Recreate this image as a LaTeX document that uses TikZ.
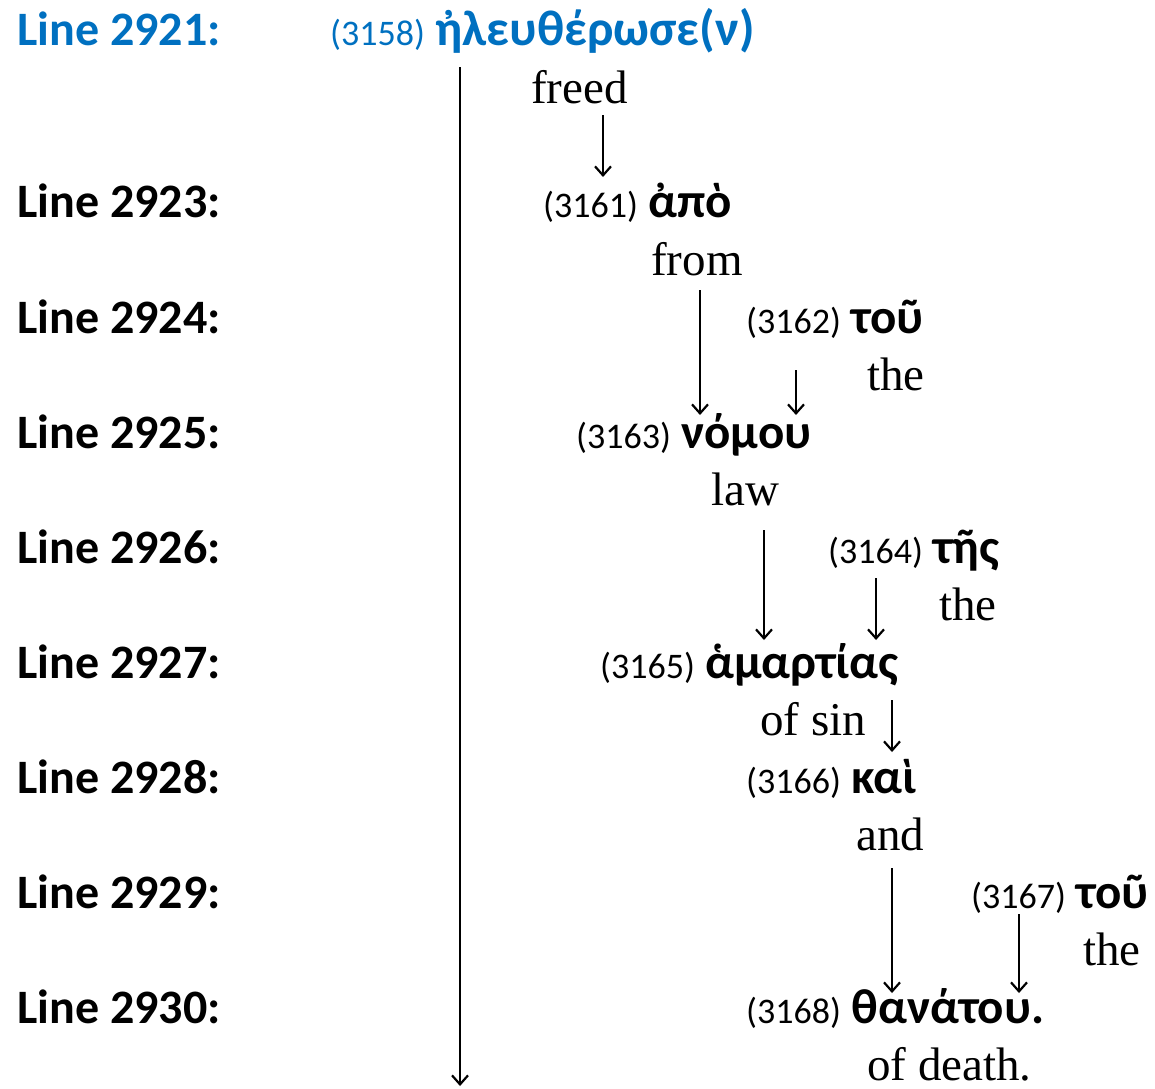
\documentclass[tikz,border=0pt]{standalone}
\usepackage{fontspec}
\setmainfont{Liberation Serif}
\newfontfamily\lblfont{Carlito}
\newfontfamily\grkfont{Carlito}
\usetikzlibrary{arrows.meta,calc}
\definecolor{ablue}{RGB}{0,112,192}
\newcommand\wnum[1]{{\lblfont\fontsize{36}{40}\selectfont(#1)}}
\newcommand\gword[1]{{\grkfont\bfseries\fontsize{49}{50}\selectfont #1}}
\begin{document}
\begin{tikzpicture}[x=1pt,y=-1pt,
 lbl/.style={anchor=base west,inner sep=0,font=\lblfont\bfseries\fontsize{48}{50}\selectfont},
 gw/.style={anchor=base west,inner sep=0,font=\lblfont\fontsize{46}{50}\selectfont},
 en/.style={anchor=base west,inner sep=0,font=\fontsize{47}{50}\selectfont},
 arr/.style={-{Straight Barb[length=9pt,width=16pt]},line width=2.2pt}]
\useasboundingbox (0,0) rectangle (1155,1088);
% line labels
\node[lbl,text=ablue] (l1) at (17,45) {Line 2921:};
\node[lbl] (l3) at (17,217) {Line 2923:};
\node[lbl] (l4) at (17,333) {Line 2924:};
\node[lbl] (l5) at (17,448) {Line 2925:};
\node[lbl] (l6) at (17,563) {Line 2926:};
\node[lbl] (l7) at (17,678) {Line 2927:};
\node[lbl] (l8) at (17,793) {Line 2928:};
\node[lbl] (l9) at (17,908) {Line 2929:};
\node[lbl] (l10) at (17,1023) {Line 2930:};
% words
\node[gw,text=ablue] (w3158) at (330,45) {\wnum{3158} {\grkfont\bfseries\fontsize{50}{54}\selectfont ἠλευθέρωσε(ν)}};
\node[en] (freed) at (531,103) {freed};
\node[gw] (w3161) at (543,217) {\wnum{3161} \gword{ἀπὸ}};
\node[en] (from) at (651,275) {from};
\node[gw] (w3162) at (746,333) {\wnum{3162} \gword{τοῦ}};
\node[en] (the1) at (867,390) {the};
\node[gw] (w3163) at (576,448) {\wnum{3163} \gword{νόμου}};
\node[en] (law) at (711,505) {law};
\node[gw] (w3164) at (828,563) {\wnum{3164} \gword{τῆς}};
\node[en] (the2) at (939,620) {the};
\node[gw] (w3165) at (600,678) {\wnum{3165} \gword{ἁμαρτίας}};
\node[en] (ofsin) at (760,735) {of sin};
\node[gw] (w3166) at (746,793) {\wnum{3166} \gword{καὶ}};
\node[en] (and) at (856,850) {and};
\node[gw] (w3167) at (971,908) {\wnum{3167} \gword{τοῦ}};
\node[en] (the3) at (1083,965) {the};
\node[gw] (w3168) at (746,1023) {\wnum{3168} \gword{θανάτου.}};
\node[en] (death) at (867,1080) {of death.};
\coordinate (bottom) at (460,1086);
% connectors
\draw[arr] ($(w3158.base -| bottom)+(0,22)$) -- (bottom);
\draw[arr] ($(freed.base -| 603,0)+(0,12)$) -- ($(w3161.base -| 603,0)+(0,-40)$);
\draw[arr] ($(from.base -| 700,0)+(0,15)$) -- ($(w3163.base -| 700,0)+(0,-33)$);
\draw[arr] ($(w3162.base -| 796,0)+(0,37)$) -- ($(w3163.base -| 796,0)+(0,-33)$);
\draw[arr] ($(law.base -| 764,0)+(0,25)$) -- ($(w3165.base -| 764,0)+(0,-38)$);
\draw[arr] ($(w3164.base -| 876,0)+(0,15)$) -- ($(w3165.base -| 876,0)+(0,-38)$);
\draw[arr] ($(w3165.base -| 892,0)+(0,22)$) -- ($(w3166.base -| 892,0)+(0,-41)$);
\draw[arr] ($(and.base -| 892,0)+(0,18)$) -- ($(w3168.base -| 892,0)+(0,-30)$);
\draw[arr] ($(w3167.base -| 1019,0)+(0,6)$) -- ($(w3168.base -| 1019,0)+(0,-30)$);
\end{tikzpicture}
\end{document}
